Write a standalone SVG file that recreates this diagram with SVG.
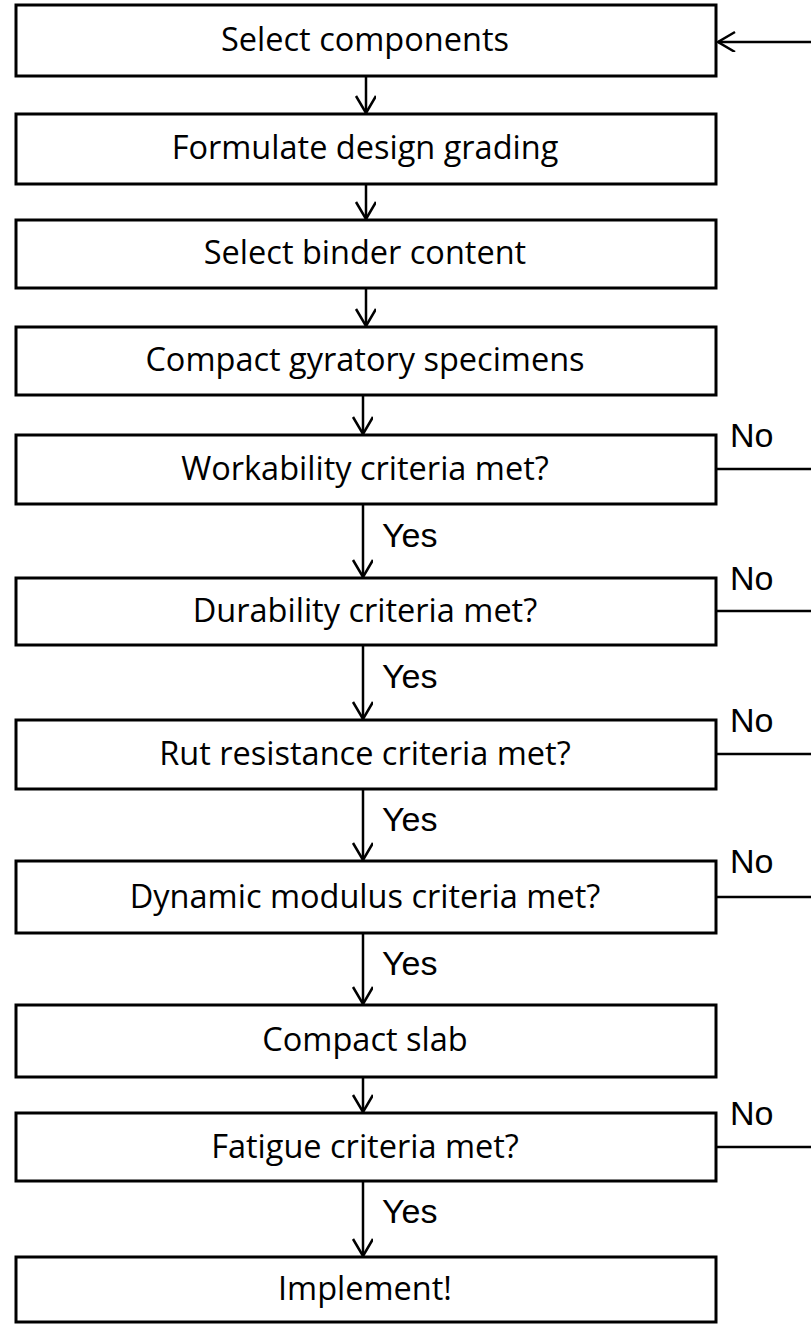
<svg xmlns="http://www.w3.org/2000/svg" width="811" height="1324" viewBox="0 0 811 1324">
<style>
.box{fill:#fff;stroke:#000;stroke-width:3}
.t{font-family:"Open Sans","Liberation Sans",sans-serif;font-size:32.5px;fill:#000;text-anchor:middle}
.lbl{font-family:"Liberation Sans",Arial,sans-serif;font-size:34px;fill:#000}
.ln{stroke:#000;stroke-width:2.5;fill:none}
</style>
<defs>
<marker id="ah" markerWidth="24" markerHeight="24" refX="18" refY="10" orient="auto" markerUnits="userSpaceOnUse">
<path d="M1,0 L18,10 L1,20" fill="none" stroke="#000" stroke-width="2.5"/>
</marker>
</defs>
<g id="connectors">
<line class="ln" x1="811" y1="42" x2="718" y2="42" marker-end="url(#ah)"/>
<line class="ln" x1="366" y1="76" x2="366" y2="113" marker-end="url(#ah)"/>
<line class="ln" x1="366" y1="184" x2="366" y2="219" marker-end="url(#ah)"/>
<line class="ln" x1="366" y1="288" x2="366" y2="326" marker-end="url(#ah)"/>
<line class="ln" x1="363" y1="395" x2="363" y2="434" marker-end="url(#ah)"/>
<line class="ln" x1="363" y1="504" x2="363" y2="577" marker-end="url(#ah)"/>
<line class="ln" x1="363" y1="645" x2="363" y2="719" marker-end="url(#ah)"/>
<line class="ln" x1="363" y1="789" x2="363" y2="860" marker-end="url(#ah)"/>
<line class="ln" x1="363" y1="933" x2="363" y2="1004" marker-end="url(#ah)"/>
<line class="ln" x1="363" y1="1077" x2="363" y2="1112" marker-end="url(#ah)"/>
<line class="ln" x1="363" y1="1181" x2="363" y2="1256" marker-end="url(#ah)"/>
<line class="ln" x1="716" y1="469" x2="811" y2="469"/>
<line class="ln" x1="716" y1="611" x2="811" y2="611"/>
<line class="ln" x1="716" y1="754" x2="811" y2="754"/>
<line class="ln" x1="716" y1="897" x2="811" y2="897"/>
<line class="ln" x1="716" y1="1147" x2="811" y2="1147"/>
<text class="lbl" x="382" y="547">Yes</text>
<text class="lbl" x="382" y="688">Yes</text>
<text class="lbl" x="382" y="831">Yes</text>
<text class="lbl" x="382" y="975">Yes</text>
<text class="lbl" x="382" y="1223">Yes</text>
<text class="lbl" x="730" y="447">No</text>
<text class="lbl" x="730" y="590">No</text>
<text class="lbl" x="730" y="732">No</text>
<text class="lbl" x="730" y="873">No</text>
<text class="lbl" x="730" y="1125">No</text>
</g>
<g id="n1"><rect class="box" x="16" y="5" width="700" height="71"/><text class="t" x="365" y="51">Select components</text></g>
<g id="n2"><rect class="box" x="16" y="114" width="700" height="70"/><text class="t" x="365" y="159">Formulate design grading</text></g>
<g id="n3"><rect class="box" x="16" y="220" width="700" height="68"/><text class="t" x="365" y="264">Select binder content</text></g>
<g id="n4"><rect class="box" x="16" y="327" width="700" height="68"/><text class="t" x="365" y="371">Compact gyratory specimens</text></g>
<g id="n5"><rect class="box" x="16" y="435" width="700" height="69"/><text class="t" x="365" y="480">Workability criteria met?</text></g>
<g id="n6"><rect class="box" x="16" y="578" width="700" height="67"/><text class="t" x="365" y="622">Durability criteria met?</text></g>
<g id="n7"><rect class="box" x="16" y="720" width="700" height="69"/><text class="t" x="365" y="765">Rut resistance criteria met?</text></g>
<g id="n8"><rect class="box" x="16" y="861" width="700" height="72"/><text class="t" x="365" y="908">Dynamic modulus criteria met?</text></g>
<g id="n9"><rect class="box" x="16" y="1005" width="700" height="72"/><text class="t" x="365" y="1051">Compact slab</text></g>
<g id="n10"><rect class="box" x="16" y="1113" width="700" height="68"/><text class="t" x="365" y="1158">Fatigue criteria met?</text></g>
<g id="n11"><rect class="box" x="16" y="1257" width="700" height="65"/><text class="t" x="365" y="1300">Implement!</text></g>
</svg>
